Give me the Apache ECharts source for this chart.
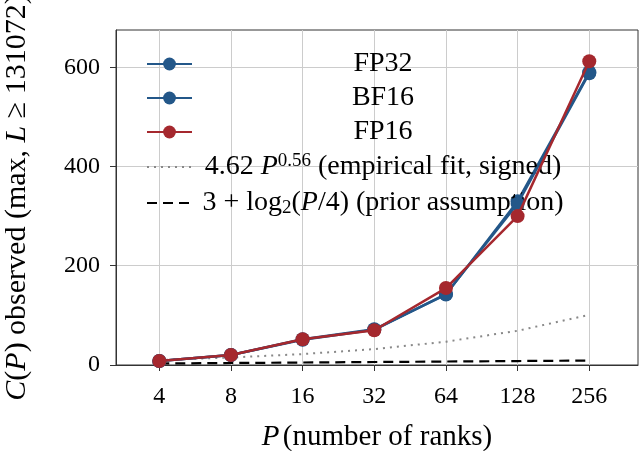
<!DOCTYPE html>
<html>
<head>
<meta charset="utf-8">
<script src="https://cdn.jsdelivr.net/npm/echarts@6/dist/echarts.min.js"></script>
<style>
  html, body { margin: 0; padding: 0; background: #fff; }
  #chart { width: 639px; height: 451px; }
</style>
</head>
<body>
<div id="chart"></div>
<script>
var ranks = [4, 8, 16, 32, 64, 128, 256];
var fp32 = [8, 20, 52, 72, 142, 330, 590];
var bf16 = [8, 20, 51, 71, 143, 325, 588];
var fp16 = [8, 20, 52, 70, 155, 300, 612];
var fitSigned = [10, 15, 22, 32, 47, 69, 101];
var priorLog = [3, 4, 5, 6, 7, 8, 9];
var yTicks = [0, 200, 400, 600];

var blue = '#235789';
var red = '#a5282e';
var font = 'Liberation Serif';

function pairs(vals) {
    return ranks.map(function (p, i) { return [Math.log2(p), vals[i]]; });
}

var legendRich = {
    n: { fontFamily: font, fontSize: 28, color: '#000', align: 'center', lineHeight: 30 },
    i: { fontFamily: font, fontSize: 28, color: '#000', align: 'center', fontStyle: 'italic', lineHeight: 30 },
    sup: { fontFamily: font, fontSize: 19, color: '#000', align: 'center', verticalAlign: 'top', lineHeight: 30, padding: [0, 0, 12, 0] },
    sub: { fontFamily: font, fontSize: 19, color: '#000', align: 'center', verticalAlign: 'bottom', lineHeight: 30, padding: [8, 0, 0, 0] }
};

var legendText = {
    'FP32': '{n|FP32}',
    'BF16': '{n|BF16}',
    'FP16': '{n|FP16}',
    'fit': '{n|4.62 }{i|P}{sup|0.56}{n| (empirical fit, signed)}',
    'prior': '{n|3 + log}{sub|2}{n|(}{i|P}{n|/4) (prior assumption)}'
};

var hideMark = { color: 'rgba(0,0,0,0)', borderWidth: 0 };

var chart = echarts.init(document.getElementById('chart'));
chart.setOption({
    animation: false,
    grid: {
        left: 116, right: 1, top: 30, bottom: 86,
        containLabel: false,
        outerBoundsMode: 'none',
        show: true, borderColor: '#333', borderWidth: 1
    },
    legend: {
        orient: 'vertical',
        left: 141,
        top: 45,
        itemWidth: 45,
        itemHeight: 16,
        itemGap: 6,
        formatter: function (name) { return legendText[name]; },
        textStyle: { width: 372, rich: legendRich },
        data: ['FP32', 'BF16', 'FP16',
            { name: 'fit', itemStyle: hideMark },
            { name: 'prior', itemStyle: hideMark }]
    },
    xAxis: {
        type: 'value',
        min: 1.396,
        max: 8.68,
        name: '{i|P} {n|(number of ranks)}',
        nameLocation: 'middle',
        nameGap: 58,
        nameTextStyle: {
            rich: {
                n: { fontFamily: font, fontSize: 29, color: '#000' },
                i: { fontFamily: font, fontSize: 29, color: '#000', fontStyle: 'italic' }
            }
        },
        axisLine: { lineStyle: { color: '#333', width: 1 } },
        axisTick: { show: true, length: 6, customValues: [2, 3, 4, 5, 6, 7, 8], lineStyle: { color: '#333' } },
        axisLabel: {
            customValues: [2, 3, 4, 5, 6, 7, 8],
            margin: 20,
            fontFamily: font, fontSize: 24, color: '#000',
            formatter: function (v) { return String(Math.round(Math.pow(2, v))); }
        },
        splitLine: { show: true, lineStyle: { color: '#cccccc', width: 1 } }
    },
    yAxis: {
        type: 'value',
        min: 0,
        max: 675,
        name: '{i|C}{n|(}{i|P}{n|) observed (max, }{i|L}{n| ≥ 131072)}',
        nameLocation: 'middle',
        nameGap: 84,
        nameTextStyle: {
            rich: {
                n: { fontFamily: font, fontSize: 30, color: '#000' },
                i: { fontFamily: font, fontSize: 30, color: '#000', fontStyle: 'italic' }
            }
        },
        axisLine: { show: true, lineStyle: { color: '#333', width: 1 } },
        axisTick: { show: true, length: 6, customValues: yTicks, lineStyle: { color: '#333' } },
        axisLabel: {
            customValues: yTicks,
            margin: 16,
            fontFamily: font, fontSize: 24, color: '#000'
        },
        splitLine: { show: true, lineStyle: { color: '#cccccc', width: 1 } }
    },
    series: [
        {
            name: 'prior', type: 'line', data: pairs(priorLog), symbol: 'none',
            lineStyle: { color: '#000', width: 2.2, type: [10, 6] }, itemStyle: { color: '#000' }, z: 2
        },
        {
            name: 'fit', type: 'line', data: pairs(fitSigned), symbol: 'none',
            lineStyle: { color: '#888', width: 2, type: [2, 5] }, itemStyle: { color: '#888' }, z: 2
        },
        {
            name: 'FP32', type: 'line', data: pairs(fp32), symbol: 'circle', symbolSize: 14,
            lineStyle: { color: blue, width: 2.5 }, itemStyle: { color: blue }, z: 3
        },
        {
            name: 'BF16', type: 'line', data: pairs(bf16), symbol: 'circle', symbolSize: 14,
            lineStyle: { color: blue, width: 2.5 }, itemStyle: { color: blue }, z: 4
        },
        {
            name: 'FP16', type: 'line', data: pairs(fp16), symbol: 'circle', symbolSize: 14,
            lineStyle: { color: red, width: 2.5 }, itemStyle: { color: red }, z: 5
        }
    ]
});
</script>
</body>
</html>
